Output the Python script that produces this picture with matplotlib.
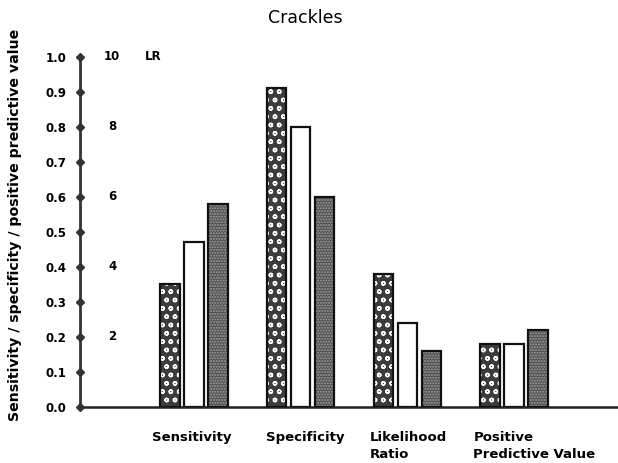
import matplotlib
matplotlib.use("Agg")
import matplotlib.pyplot as plt
import numpy as np

# Crackles: sensitivity / specificity / LR / PPV for three observers
categories = ["Sensitivity", "Specificity", "Likelihood\nRatio", "Positive\nPredictive Value"]
sensitivity = [0.35, 0.47, 0.58]
specificity = [0.91, 0.80, 0.60]
likelihood_ratio = [3.8, 2.4, 1.6]
ppv = [0.18, 0.18, 0.22]
prop_ticks = [0.0, 0.1, 0.2, 0.3, 0.4, 0.5, 0.6, 0.7, 0.8, 0.9, 1.0]
lr_ticks = [2, 4, 6, 8, 10]

groups = [sensitivity, specificity, likelihood_ratio, ppv]
on_lr_scale = [False, False, True, False]

plt.rcParams["font.family"] = "DejaVu Sans"
plt.rcParams["font.weight"] = "bold"

fig = plt.figure(figsize=(6.18, 4.63), dpi=100)
ax = fig.add_axes([0.1294, 0.121, 0.8706, 0.756])
ax2 = ax.twinx()
ax.set_ylim(0, 1.0)
ax2.set_ylim(0, 10)
ax.set_xlim(-1.068, 3.975)

width = 0.18
offsets = [-0.225, 0.0, 0.225]
styles = [
    dict(fc="#3c3c3c", hatch="oo", hc="white"),
    dict(fc="white", hatch=None, hc="white"),
    dict(fc="#505050", hatch="......", hc="#a0a0a0"),
]

for i, vals in enumerate(groups):
    target = ax2 if on_lr_scale[i] else ax
    for j, v in enumerate(vals):
        st = styles[j]
        x = i + offsets[j]
        if st["hatch"]:
            target.bar(x, v, width=width, color=st["fc"], edgecolor=st["hc"],
                       hatch=st["hatch"], linewidth=0, zorder=2)
        target.bar(x, v, width=width, fill=(st["hatch"] is None), facecolor="white",
                   edgecolor="#111111", linewidth=1.6, zorder=3)

# axes styling
for a in (ax, ax2):
    for s in ("top", "right"):
        a.spines[s].set_visible(False)
ax2.spines["left"].set_visible(False)
ax2.spines["bottom"].set_visible(False)
ax2.set_yticks([])
ax.spines["left"].set_color("#333333")
ax.spines["left"].set_linewidth(2)
ax.spines["bottom"].set_color("#222222")
ax.spines["bottom"].set_linewidth(1.8)

ax.set_xticks([])
ax.set_yticks(prop_ticks)
ax.set_yticklabels([f"{t:.1f}" for t in prop_ticks], fontsize=8.5, fontweight="bold")
ax.tick_params(axis="y", length=0, pad=10)

# diamond tick marks on the left axis
ax.plot(np.zeros(len(prop_ticks)), prop_ticks, linestyle="none", marker="D",
        markersize=4, color="#333333", transform=ax.get_yaxis_transform(),
        clip_on=False, zorder=4)

# LR scale labels inside the plot
for t in lr_ticks:
    ax2.text(0.06, t, str(t), transform=ax2.get_yaxis_transform(), ha="center",
             va="center", fontsize=8.5, fontweight="bold")
ax2.text(0.136, 10, "LR", transform=ax2.get_yaxis_transform(), ha="center",
         va="center", fontsize=8.5, fontweight="bold")

# category labels under each group
label_x = [-0.02, 0.04, -0.35, -0.38]
label_ha = ["center", "center", "left", "left"]
for i, lab in enumerate(categories):
    ax.text(i + label_x[i], -0.07, lab, ha=label_ha[i], va="top", fontsize=9.5,
            fontweight="bold", linespacing=1.35, transform=ax.get_xaxis_transform())

ax.set_ylabel("Sensitivity / specificity / positive predictive value", fontsize=10.2,
              fontweight="bold")
ax.yaxis.set_label_coords(-0.108, 0.52)

fig.text(0.494, 0.961, "Crackles", ha="center", va="center", fontsize=12.5,
         fontweight="normal")

fig.savefig("out.png", dpi=100)
